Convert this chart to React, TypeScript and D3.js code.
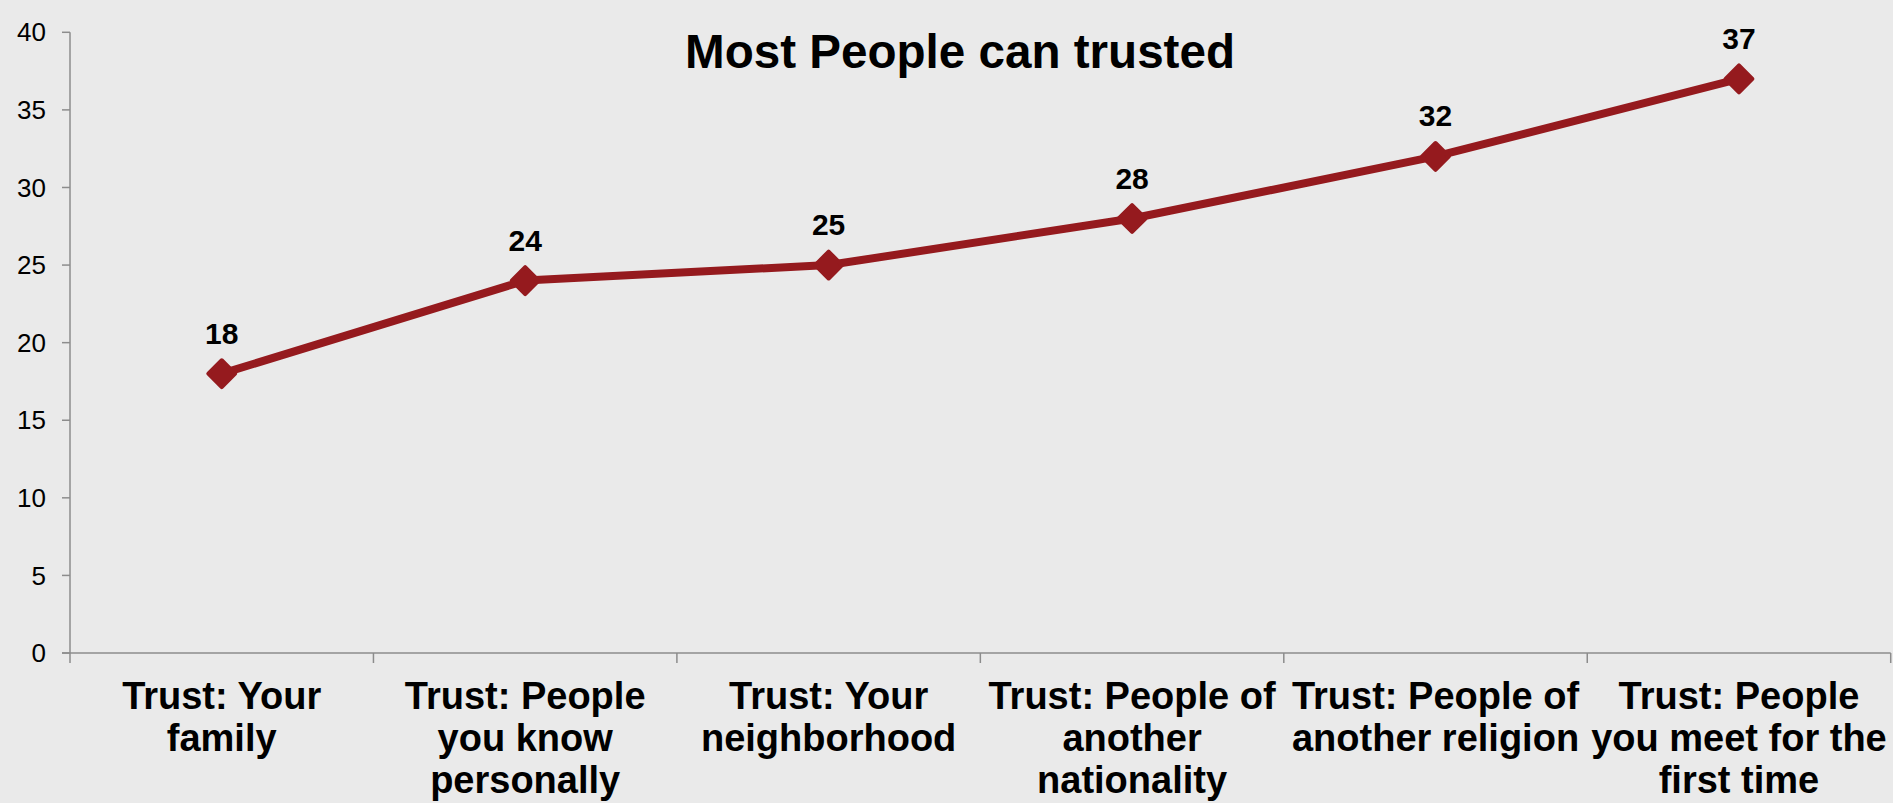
import React from "react";
import * as d3 from "d3";

const categories: string[] = [
  "Trust: Your\nfamily",
  "Trust: People\nyou know\npersonally",
  "Trust: Your\nneighborhood",
  "Trust: People of\nanother\nnationality",
  "Trust: People of\nanother religion",
  "Trust: People\nyou meet for the\nfirst time",
];
const values: number[] = [18, 24, 25, 28, 32, 37];
const yTicks: number[] = [0, 5, 10, 15, 20, 25, 30, 35, 40];
const title = "Most People can trusted";

const W = 1893;
const H = 803;
const FONT = "'Liberation Sans', Arial, Helvetica, sans-serif";
const LINE_COLOR = "#951a1e";
const AXIS_COLOR = "#8c8c8c";

export default function App() {
  const left = 70;
  const right = 1890.7;
  const top = 32.3;
  const bottom = 653;

  const x = d3.scaleBand<number>().domain(d3.range(categories.length)).range([left, right]).padding(0);
  const y = d3.scaleLinear().domain([0, 40]).range([bottom, top]);

  const line = d3
    .line<number>()
    .x((_, i) => (x(i) as number) + x.bandwidth() / 2)
    .y((d) => y(d));

  const diamond = d3.symbol().type(d3.symbolSquare).size(19 * 19)();

  const tickXs = d3.range(categories.length + 1).map((i) => left + i * x.bandwidth());

  return (
    <svg
      width={W}
      height={H}
      style={{ position: "absolute", left: 0, top: 0, background: "#eaeaea" }}
      fontFamily={FONT}
    >
      <rect x={0} y={0} width={W} height={H} fill="#eaeaea" />
      {/* Title */}
      <text
        x={960}
        y={68.3}
        textAnchor="middle"
        fontSize={48}
        fontWeight="bold"
        textLength={550}
        lengthAdjust="spacingAndGlyphs"
        fill="#000"
      >
        {title}
      </text>

      {/* Y axis */}
      <line x1={left} x2={left} y1={y(40)} y2={y(0)} stroke={AXIS_COLOR} strokeWidth={1.5} />
      {yTicks.map((t) => (
        <g key={t}>
          <line x1={left - 8} x2={left} y1={y(t)} y2={y(t)} stroke={AXIS_COLOR} strokeWidth={1.5} />
          <text x={left - 24} y={y(t)} dy="0.35em" textAnchor="end" fontSize={26} fill="#000">
            {t}
          </text>
        </g>
      ))}

      {/* X axis */}
      <line x1={left - 8} x2={right} y1={y(0)} y2={y(0)} stroke={AXIS_COLOR} strokeWidth={1.5} />
      {tickXs.map((tx, i) => (
        <line key={i} x1={tx} x2={tx} y1={y(0)} y2={y(0) + 10} stroke={AXIS_COLOR} strokeWidth={1.5} />
      ))}
      {categories.map((c, i) => {
        const cx = (x(i) as number) + x.bandwidth() / 2;
        return (
          <text key={i} x={cx} y={709} textAnchor="middle" fontSize={38} fontWeight="bold" fill="#000">
            {c.split("\n").map((ln, j) => (
              <tspan key={j} x={cx} dy={j === 0 ? 0 : 42}>
                {ln}
              </tspan>
            ))}
          </text>
        );
      })}

      {/* Line */}
      <path d={line(values) || ""} fill="none" stroke={LINE_COLOR} strokeWidth={8} strokeLinejoin="round" />
      {values.map((v, i) => {
        const cx = (x(i) as number) + x.bandwidth() / 2;
        const cy = y(v);
        return (
          <g key={i}>
            <path
              d={diamond || ""}
              transform={`translate(${cx},${cy}) rotate(45)`}
              fill={LINE_COLOR}
              stroke={LINE_COLOR}
              strokeWidth={4}
              strokeLinejoin="round"
            />
            <text x={cx} y={cy - 30} textAnchor="middle" fontSize={30} fontWeight="bold" fill="#000">
              {v}
            </text>
          </g>
        );
      })}
    </svg>
  );
}
